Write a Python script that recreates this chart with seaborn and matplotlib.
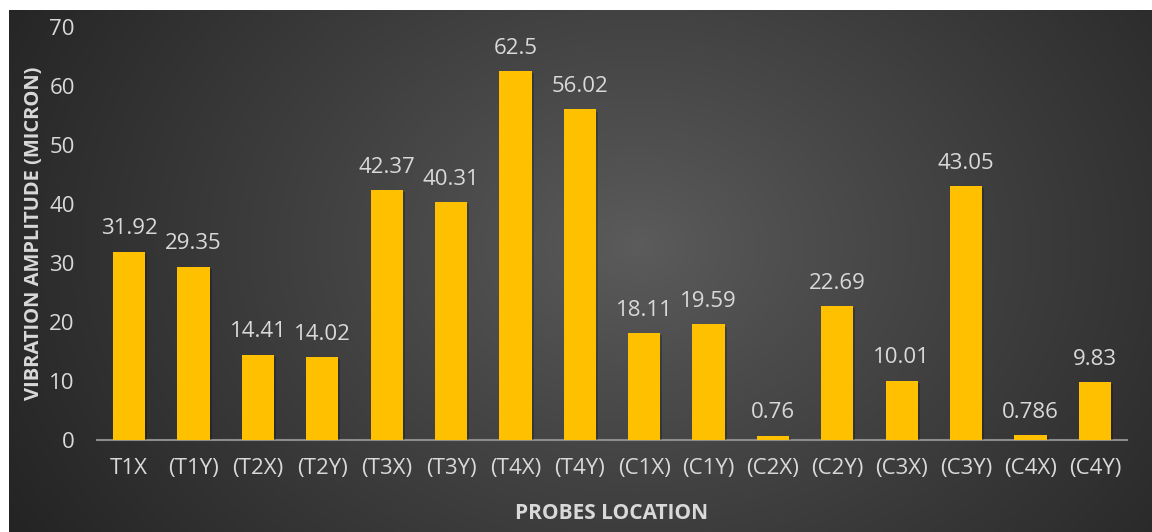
import numpy as np
import pandas as pd
import matplotlib
matplotlib.use("Agg")
import matplotlib.pyplot as plt
import matplotlib.patheffects as pe
import seaborn as sns

probes = ["T1X", "(T1Y)", "(T2X)", "(T2Y)", "(T3X)", "(T3Y)", "(T4X)", "(T4Y)",
          "(C1X)", "(C1Y)", "(C2X)", "(C2Y)", "(C3X)", "(C3Y)", "(C4X)", "(C4Y)"]
amplitude = [31.92, 29.35, 14.41, 14.02, 42.37, 40.31, 62.5, 56.02,
             18.11, 19.59, 0.76, 22.69, 10.01, 43.05, 0.786, 9.83]
value_labels = ["31.92", "29.35", "14.41", "14.02", "42.37", "40.31", "62.5", "56.02",
                "18.11", "19.59", "0.76", "22.69", "10.01", "43.05", "0.786", "9.83"]
y_ticks = [0, 10, 20, 30, 40, 50, 60, 70]

df = pd.DataFrame({"probe": probes, "amplitude": amplitude})

sns.set_theme(style="white")
plt.rcParams["font.family"] = ["Open Sans", "DejaVu Sans"]

W, H = 1152, 532
fig = plt.figure(figsize=(W / 100, H / 100), dpi=100, facecolor="white")

# dark radial gradient panel behind the chart
bg = fig.add_axes([9 / W, 0, 1 - 9 / W, 1 - 10 / H])
bg.set_axis_off()
ny, nx = 300, 640
yy, xx = np.mgrid[0:ny, 0:nx]
cx, cy = nx * 0.55, ny * 0.45
r = np.sqrt(((xx - cx) / nx) ** 2 + ((yy - cy) / ny) ** 2 * 0.35)
r = np.clip(r / r.max(), 0, 1)
inner, outer = 0.36, 0.14
shade = inner + (outer - inner) * r ** 0.9
bg.imshow(np.dstack([shade] * 3), aspect="auto", extent=[0, 1, 0, 1], interpolation="bilinear")

ax = fig.add_axes([97 / W, 92 / H, (1127 - 97) / W, (440 - 27) / H])
ax.patch.set_alpha(0)

sns.barplot(data=df, x="probe", y="amplitude", color="#FFC000", saturation=1,
            width=0.5, linewidth=0, ax=ax, zorder=3)
for bar in ax.patches:
    bar.set_path_effects([pe.SimplePatchShadow(offset=(1.5, -1.5), alpha=0.22, shadow_rgbFace="black"),
                          pe.Normal()])

for i, (v, lab) in enumerate(zip(amplitude, value_labels)):
    ax.annotate(lab, (i, v), xytext=(0, 9), textcoords="offset points",
                ha="center", va="bottom", color="#D9D9D9", fontsize=16)

ax.set_ylim(0, 70)
ax.set_xlim(-0.5, len(probes) - 0.5)
ax.set_yticks(y_ticks)
ax.set_yticklabels([str(t) for t in y_ticks])
ax.tick_params(axis="both", colors="#D9D9D9", labelsize=16, length=0)
ax.tick_params(axis="x", pad=13)
ax.tick_params(axis="y", pad=16)

for s in ["top", "right", "left"]:
    ax.spines[s].set_visible(False)
ax.spines["bottom"].set_color("#8C8C8C")
ax.spines["bottom"].set_linewidth(1.5)

ax.set_xlabel("PROBES LOCATION", color="#D9D9D9", fontsize=15, fontweight="bold", labelpad=17)
ax.set_ylabel("VIBRATION AMPLITUDE (MICRON)", color="#D9D9D9", fontsize=14.5,
              fontweight="bold", labelpad=4)

fig.savefig("out.png", dpi=100, facecolor="white")
